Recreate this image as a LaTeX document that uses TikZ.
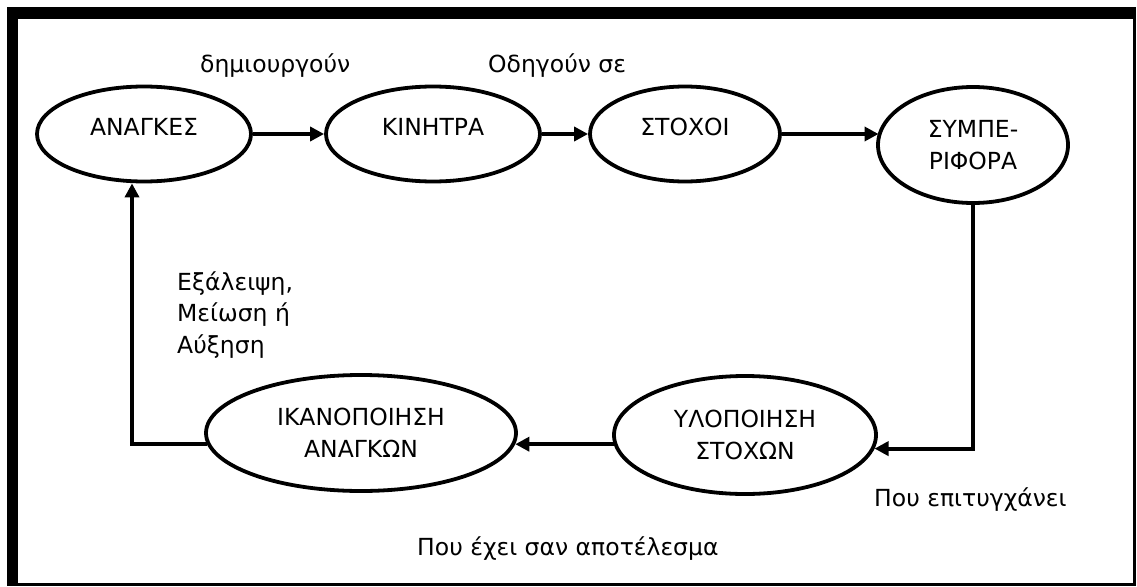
\documentclass[tikz,border=0pt]{standalone}
\usepackage{fontspec}
\setmainfont{DejaVu Sans}
\usetikzlibrary{shapes.geometric,arrows.meta}

\tikzset{
  txt/.style={font=\fontsize{23.5pt}{31.5pt}\selectfont, inner sep=0pt},
  bubble/.style={txt, ellipse, draw, line width=3.8pt, align=center},
  oneline/.style={text height=2.5pt, text depth=0pt},
  link/.style={line width=3.8pt},
  arr/.style={link, -{Triangle[length=14pt,width=14pt]}},
  note/.style={txt, anchor=base west}
}

\begin{document}
\begin{tikzpicture}[x=1pt, y=-1pt]
  \useasboundingbox (0,0) rectangle (1137,586);

  % frame: heavy top and left edges, thin right and bottom edges
  \fill (7,7) rectangle (1136,19);
  \fill (7,7) rectangle (18,586);
  \draw[line width=2.5pt] (1134.7,19) -- (1134.7,584.7) -- (18,584.7);

  % upper row
  \node[bubble, oneline, minimum width=214pt, minimum height=95pt] (an) at (144,134) {ΑΝΑΓΚΕΣ};
  \node[bubble, oneline, minimum width=214pt, minimum height=95pt] (ki) at (433,134) {ΚΙΝΗΤΡΑ};
  \node[bubble, oneline, minimum width=190pt, minimum height=95pt] (st) at (685,134) {ΣΤΟΧΟΙ};
  \node[bubble, minimum width=190pt, minimum height=116pt] (sy) at (973,145) {ΣΥΜΠΕ-\\ΡΙΦΟΡΑ};

  % lower row
  \node[bubble, minimum width=262pt, minimum height=118pt] (yl) at (745,435) {ΥΛΟΠΟΙΗΣΗ\\ΣΤΟΧΩΝ};
  \node[bubble, minimum width=310pt, minimum height=116pt] (ik) at (361,433) {ΙΚΑΝΟΠΟΙΗΣΗ\\ΑΝΑΓΚΩΝ};

  % connectors
  \draw[arr] (an.east) -- (ki.west);
  \draw[arr] (ki.east) -- (st.west);
  \draw[arr] (st.east) -- (st.east -| sy.172.6);
  \draw[arr] (sy.south) |- (yl.-6.75);
  \draw[arr] (yl.184.9) -- (yl.184.9 -| ik.-4.92);
  \draw[arr] (ik.184.92) -| ([xshift=-12pt]an.south);

  % labels (the three-line label is anchored on its last baseline)
  \node[note] (l1) at (200,73) {δημιουργούν};
  \node[note] (l2) at (488,73) {Οδηγούν σε};
  \node[note, align=left] (l3) at (177,353) {Εξάλειψη,\\Μείωση ή\\Αύξηση};
  \node[note] (l4) at (874,506) {Που επιτυγχάνει};
  \node[note] (l5) at (417,555) {Που έχει σαν αποτέλεσμα};
\end{tikzpicture}
\end{document}
